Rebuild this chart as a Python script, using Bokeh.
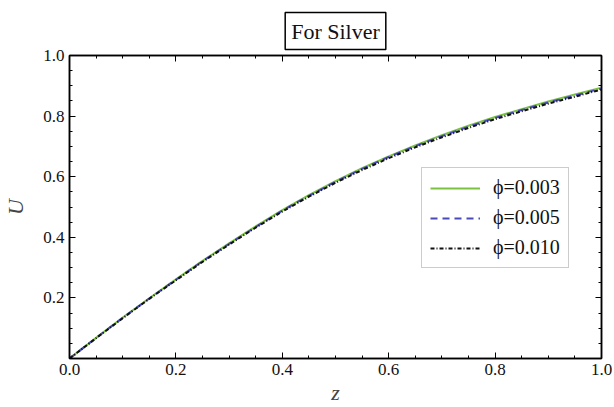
from bokeh.plotting import figure
from bokeh.models import (FixedTicker, LinearAxis, Legend, LegendItem, Range1d,
                          PrintfTickFormatter, Title)
from bokeh.embed import file_html
from bokeh.resources import INLINE

# Velocity profile U(z) for silver nanofluid at three volume fractions
z = [0.00, 0.05, 0.10, 0.15, 0.20, 0.25, 0.30, 0.35, 0.40, 0.45, 0.50,
     0.55, 0.60, 0.65, 0.70, 0.75, 0.80, 0.85, 0.90, 0.95, 1.00]
u_phi_003 = [0.000, 0.068, 0.135, 0.199, 0.261, 0.322, 0.380, 0.436, 0.490, 0.539, 0.585,
             0.628, 0.667, 0.703, 0.737, 0.768, 0.797, 0.823, 0.848, 0.871, 0.894]
u_phi_005 = [0.000, 0.068, 0.134, 0.198, 0.260, 0.321, 0.378, 0.434, 0.488, 0.537, 0.583,
             0.626, 0.665, 0.701, 0.734, 0.765, 0.794, 0.820, 0.845, 0.868, 0.891]
u_phi_010 = [0.000, 0.067, 0.133, 0.197, 0.258, 0.319, 0.376, 0.432, 0.485, 0.534, 0.580,
             0.622, 0.661, 0.697, 0.730, 0.761, 0.790, 0.816, 0.841, 0.864, 0.888]
series_labels = ["\u03d5=0.003", "\u03d5=0.005", "\u03d5=0.010"]

x_ticks = [0.0, 0.2, 0.4, 0.6, 0.8, 1.0]
y_ticks = [0.2, 0.4, 0.6, 0.8, 1.0]
minor = [round(i * 0.05, 2) for i in range(21)]

SERIF = "'Liberation Serif', 'Times New Roman', serif"

p = figure(width=614, height=407, output_backend="svg", toolbar_location=None,
           x_range=Range1d(0, 1), y_range=Range1d(0, 1),
           min_border_left=67, min_border_right=13, min_border_top=55, min_border_bottom=49)
p.xaxis.visible = False
p.yaxis.visible = False
p.grid.visible = False
p.outline_line_color = "black"
p.outline_line_width = 1.5
p.background_fill_color = "white"
p.border_fill_color = "white"


def style_axis(ax, show_labels, ticks):
    ax.axis_line_color = "black"
    ax.axis_line_width = 1.5
    ax.major_tick_in = 6
    ax.major_tick_out = 0
    ax.minor_tick_in = 3
    ax.minor_tick_out = 0
    ax.major_tick_line_color = "black"
    ax.minor_tick_line_color = "black"
    ax.major_label_text_font = SERIF
    ax.major_label_text_font_size = "17px"
    ax.major_label_text_color = "#111111"
    ax.major_label_standoff = 5
    if show_labels:
        ax.formatter = PrintfTickFormatter(format="%.1f")
    else:
        ax.major_label_overrides = {t: "" for t in ticks}
        ax.major_label_standoff = 0


bottom = LinearAxis(ticker=FixedTicker(ticks=x_ticks, minor_ticks=minor), axis_label="z")
style_axis(bottom, True, x_ticks)
bottom.axis_label_text_font = SERIF
bottom.axis_label_text_font_style = "italic"
bottom.axis_label_text_font_size = "22px"
bottom.axis_label_standoff = 2
p.add_layout(bottom, "below")

left = LinearAxis(ticker=FixedTicker(ticks=y_ticks, minor_ticks=minor), axis_label="U")
style_axis(left, True, y_ticks)
left.axis_label_text_font = SERIF
left.axis_label_text_font_style = "italic"
left.axis_label_text_font_size = "22px"
left.axis_label_standoff = 12
p.add_layout(left, "left")

top = LinearAxis(ticker=FixedTicker(ticks=x_ticks, minor_ticks=minor))
style_axis(top, False, x_ticks)
p.add_layout(top, "above")

right = LinearAxis(ticker=FixedTicker(ticks=y_ticks, minor_ticks=minor))
style_axis(right, False, y_ticks)
p.add_layout(right, "right")

r1 = p.line(z, u_phi_003, line_color="#7cc242", line_width=2)
r2 = p.line(z, u_phi_005, line_color="#4a4ab8", line_width=2, line_dash="7 5")
r3 = p.line(z, u_phi_010, line_color="#111111", line_width=2, line_dash="4 2 1 2")

legend = Legend(items=[LegendItem(label=series_labels[0], renderers=[r1]),
                       LegendItem(label=series_labels[1], renderers=[r2]),
                       LegendItem(label=series_labels[2], renderers=[r3])],
                location=(352, 90))
legend.label_text_font = SERIF
legend.label_text_font_size = "20px"
legend.label_text_color = "#111111"
legend.glyph_width = 50
legend.glyph_height = 20
legend.label_height = 20
legend.spacing = 7
legend.padding = 8
legend.margin = 0
legend.label_standoff = 13
legend.border_line_color = "#999999"
legend.border_line_width = 1.2
legend.background_fill_color = "white"
legend.background_fill_alpha = 1.0
p.add_layout(legend, "center")

title = Title(text="For Silver", align="center", vertical_align="bottom",
              text_font=SERIF, text_font_size="22px", text_font_style="normal",
              text_color="#111111", border_line_color="black", border_line_width=1.5,
              background_fill_color="white", padding=6, standoff=12)
p.add_layout(title, "above")

open("out.html", "w").write(file_html(p, INLINE))
